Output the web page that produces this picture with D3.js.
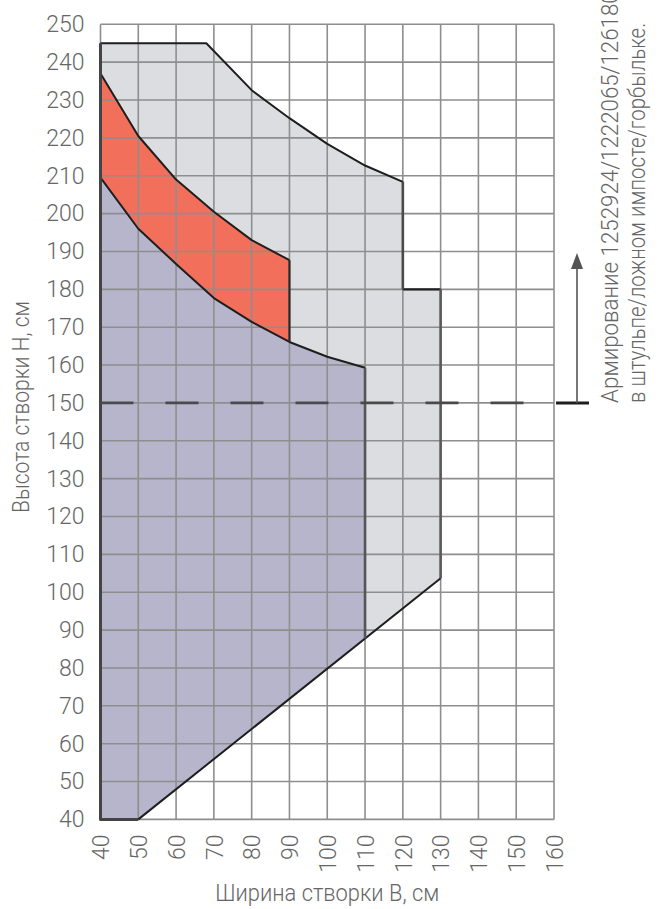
<!DOCTYPE html>
<html><head><meta charset="utf-8">
<script src="https://cdn.jsdelivr.net/npm/d3@7"></script>
<style>
body{margin:0;background:#fff;}
svg text{font-family:Roboto,"Liberation Sans",sans-serif;font-weight:300;fill:#666;}
</style></head>
<body>
<svg id="c" width="661" height="909"></svg>
<script>
// ---- data ----
const xTickValues = [40,50,60,70,80,90,100,110,120,130,140,150,160];
const yTickValues = [40,50,60,70,80,90,100,110,120,130,140,150,160,170,180,190,200,210,220,230,240,250];
// outer (grey) region
const greyX = [40,68,80,90,100,110,120,120,130,130,50,40];
const greyY = [245,245,232.6,225.2,218.4,212.7,208.4,180,180,103.7,40,40];
// red band upper boundary
const redTopX = [40,50,60,70,80,90];
const redTopY = [237,220.5,209,200.5,193,187.7];
// purple region upper boundary
const purpleTopX = [40,50,60,70,80,90,100,110];
const purpleTopY = [209.5,196,186.7,177.7,171.4,166.1,162.2,159.3];
// purple region lower boundary
const purpleBottomX = [40,50,110];
const purpleBottomY = [40,40,87.8];
const dashLevel = 150;
const dashEndX = 152;
const xTitle = "Ширина створки В, см";
const yTitle = "Высота створки Н, см";
const noteLines = ["Армирование 1252924/1222065/1261806","в штульпе/ложном импосте/горбыльке."];

// ---- scales ----
const svg = d3.select("#c");
const x = d3.scaleLinear().domain([40,160]).range([100.5,554]);
const y = d3.scaleLinear().domain([40,250]).range([819.4,24.3]);
const pts = (xs,ys)=>xs.map((v,i)=>[x(v),y(ys[i])]);
const line = d3.line();

// grey
svg.append("path").attr("d", line(pts(greyX,greyY))+"Z").attr("fill","#dcdde0");
// purple
const purplePts = pts(purpleBottomX,purpleBottomY).concat(pts(purpleTopX,purpleTopY).reverse());
svg.append("path").attr("d", line(purplePts)+"Z").attr("fill","#b6b5cc");
// red
const redPts = pts(redTopX,redTopY).concat(pts(purpleTopX.slice(0,6),purpleTopY.slice(0,6)).reverse());
svg.append("path").attr("d", line(redPts)+"Z").attr("fill","#f26f5b");

// grid
const g = svg.append("g");
g.selectAll("line.v").data(xTickValues).join("line")
  .attr("x1",d=>x(d)).attr("x2",d=>x(d)).attr("y1",y(40)).attr("y2",y(250))
  .attr("stroke","#8e8e8e").attr("stroke-width",1.6);
g.selectAll("line.h").data(yTickValues).join("line")
  .attr("y1",d=>y(d)).attr("y2",d=>y(d)).attr("x1",x(40)).attr("x2",x(160))
  .attr("stroke","#8e8e8e").attr("stroke-width",1.6);

// outlines
const ol = svg.append("g").attr("fill","none").attr("stroke-linejoin","round");
ol.append("path").attr("d", line(pts(greyX.slice(0,7),greyY.slice(0,7)))).attr("stroke","#1e1e1e").attr("stroke-width",2);
ol.append("path").attr("d", line(pts([120,130],[180,180]))).attr("stroke","#1e1e1e").attr("stroke-width",2.2);
ol.append("path").attr("d", line(pts([130,50],[103.7,40]))).attr("stroke","#1e1e1e").attr("stroke-width",2);
ol.append("path").attr("d", line(pts(redTopX,redTopY))).attr("stroke","#1e1e1e").attr("stroke-width",2);
ol.append("path").attr("d", line(pts(purpleTopX,purpleTopY))).attr("stroke","#1e1e1e").attr("stroke-width",2);
ol.append("path").attr("d", line(pts([90,90],[187.7,166.1]))).attr("stroke","#2a2a2a").attr("stroke-width",2.2);
ol.append("path").attr("d", line(pts([120,120],[208.4,180]))).attr("stroke","#4a4a4a").attr("stroke-width",2.6);
ol.append("path").attr("d", line(pts([130,130],[180,103.7]))).attr("stroke","#5a5a5a").attr("stroke-width",2.6);
ol.append("path").attr("d", line(pts([110,110],[159.3,87.8]))).attr("stroke","#555").attr("stroke-width",2.6);
ol.append("path").attr("d", line(pts([40,40,50],[245,40,40]))).attr("stroke","#444").attr("stroke-width",3);

// dashed line at 150
svg.append("line").attr("x1",x(40)).attr("x2",x(dashEndX)).attr("y1",y(dashLevel)).attr("y2",y(dashLevel))
  .attr("stroke","#4a4a4a").attr("stroke-width",2.6).attr("stroke-dasharray","33,32");
// marker + arrow
const ax = x(160)+23;
svg.append("line").attr("x1",x(160)+2).attr("x2",x(160)+35).attr("y1",y(dashLevel)).attr("y2",y(dashLevel))
  .attr("stroke","#1e1e1e").attr("stroke-width",3);
svg.append("line").attr("x1",ax).attr("x2",ax).attr("y1",y(dashLevel)).attr("y2",y(dashLevel)-140)
  .attr("stroke","#555").attr("stroke-width",1.6);
svg.append("path").attr("d",`M${ax},${y(dashLevel)-150}L${ax-6},${y(dashLevel)-134}L${ax+6},${y(dashLevel)-134}Z`).attr("fill","#555");

// axes
const tickFont = "Roboto, 'Liberation Sans', sans-serif";
const yAxis = svg.append("g").attr("transform",`translate(${x(40)},0)`)
  .call(d3.axisLeft(y).tickValues(yTickValues).tickSize(0).tickPadding(16));
yAxis.select(".domain").remove();
yAxis.selectAll("text").style("font-size","23px").style("font-family",tickFont).attr("fill","#666");

const xAxis = svg.append("g").attr("transform",`translate(0,${y(40)})`)
  .call(d3.axisBottom(x).tickValues(xTickValues).tickSize(0).tickPadding(0));
xAxis.select(".domain").remove();
xAxis.selectAll("text").style("font-size","23px").style("font-family",tickFont).attr("fill","#666")
  .attr("transform","rotate(-90)").attr("text-anchor","end").attr("x",-15).attr("y",0).attr("dy","0.36em");

// titles
svg.append("text").attr("x",(x(40)+x(160))/2).attr("y",901).attr("text-anchor","middle")
  .style("font-size","23px").attr("textLength",224).attr("lengthAdjust","spacingAndGlyphs").text(xTitle);
svg.append("text").attr("transform","translate(29,407) rotate(-90)").attr("text-anchor","middle")
  .style("font-size","23px").attr("textLength",212).attr("lengthAdjust","spacingAndGlyphs").text(yTitle);
// note
svg.append("text").attr("transform",`translate(618,${y(dashLevel)}) rotate(-90)`).attr("text-anchor","start")
  .style("font-size","23px").attr("textLength",424).attr("lengthAdjust","spacingAndGlyphs").text(noteLines[0]);
svg.append("text").attr("transform",`translate(645,${y(dashLevel)}) rotate(-90)`).attr("text-anchor","start")
  .style("font-size","23px").attr("textLength",380).attr("lengthAdjust","spacingAndGlyphs").text(noteLines[1]);
</script>
</body></html>
